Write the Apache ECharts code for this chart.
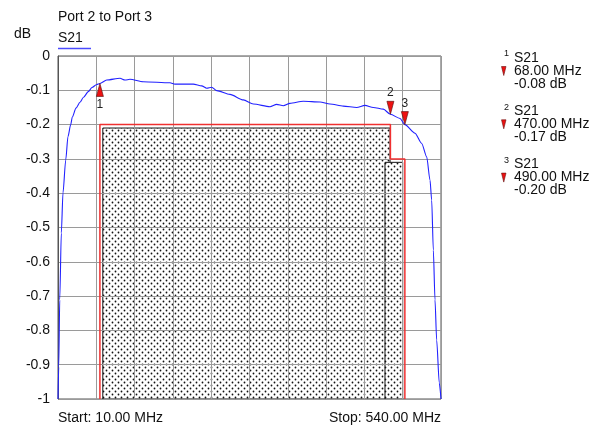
<!DOCTYPE html>
<html><head><meta charset="utf-8">
<script src="https://cdn.jsdelivr.net/npm/echarts@6/dist/echarts.min.js"></script>
<style>html,body{margin:0;padding:0;background:#fff}#c{width:610px;height:428px}</style>
</head><body><div id="c"></div>
<script>
// ---- data ----
const freqMHz = [10, 11, 12.4, 14.6, 16.9, 20.7, 23.8, 27.6, 29.8, 34.9, 40.4, 45, 51.9, 57, 63.6, 68, 77.4, 95.8, 102.7, 109.6, 128, 165, 171.9, 197.2, 208.9, 215.8, 222.7, 229.6, 248, 266.4, 280.3, 303.4, 312.6, 321.8, 331, 349.5, 372.6, 386.4, 404.8, 423.3, 434.8, 446.3, 460.2, 470, 483.3, 490, 504, 513.3, 520.2, 524.8, 527.1, 529.4, 531.7, 534, 537.6, 540];
const s21dB = [-1, -0.907, -0.711, -0.516, -0.399, -0.303, -0.235, -0.2, -0.178, -0.152, -0.135, -0.121, -0.104, -0.092, -0.083, -0.08, -0.07, -0.065, -0.07, -0.068, -0.075, -0.078, -0.082, -0.082, -0.087, -0.094, -0.091, -0.101, -0.112, -0.128, -0.14, -0.148, -0.141, -0.145, -0.138, -0.132, -0.134, -0.14, -0.146, -0.15, -0.144, -0.15, -0.155, -0.17, -0.182, -0.2, -0.225, -0.255, -0.294, -0.362, -0.42, -0.566, -0.711, -0.828, -0.953, -1];
const markerNames = ['1', '2', '3'];
const markerFreq = [68, 470, 490];
const markerDb = [-0.08, -0.17, -0.20];
const limitFreq = [68, 68, 470, 470, 490, 490];
const limitDb = [-1, -0.2, -0.2, -0.3, -0.3, -1];
const maskLeft = [72, 462.5];
const maskRight = [469.5, 487];
const maskTop = [-0.21, -0.31];
const yTickLabels = ['0', '-0.1', '-0.2', '-0.3', '-0.4', '-0.5', '-0.6', '-0.7', '-0.8', '-0.9', '-1'];
const startMHz = 10, stopMHz = 540;
const titleText = 'Port 2 to Port 3';
const traceName = 'S21';

// ---- chart ----
const FONT = "'Liberation Sans', Arial, sans-serif";
const pc = document.createElement('canvas');
pc.width = 6; pc.height = 6;
const g = pc.getContext('2d');
g.fillStyle = '#fff'; g.fillRect(0, 0, 6, 6);
g.fillStyle = '#111';
g.beginPath(); g.arc(1.5, 1.5, 0.9, 0, Math.PI * 2); g.fill();
g.beginPath(); g.arc(4.5, 4.5, 0.9, 0, Math.PI * 2); g.fill();

const chart = echarts.init(document.getElementById('c'), null, {renderer: 'canvas'});

const txt = (x, y, text, size, extra) => ({type: 'text', x, y, style: Object.assign({text, font: size + 'px ' + FONT, fill: '#111', textVerticalAlign: 'middle', verticalAlign: 'middle'}, extra || {})});
const graphics = [
  txt(58, 17, titleText, 14),
  txt(14, 34, 'dB', 14),
  txt(58, 38, traceName, 14),
  {type: 'line', shape: {x1: 58, y1: 48.5, x2: 91, y2: 48.5}, style: {stroke: '#4b4bff', lineWidth: 1.5}},
  txt(58, 418, 'Start: ' + startMHz.toFixed(2) + ' MHz', 14),
  txt(441, 418, 'Stop: ' + stopMHz.toFixed(2) + ' MHz', 14, {textAlign: 'right', align: 'right'})
];
markerNames.forEach((n, i) => {
  const y0 = 58 + i * 53.3;
  graphics.push(
    txt(504, y0 - 4, n, 9),
    txt(514, y0, traceName, 14),
    {type: 'polygon', shape: {points: [[501.5, y0 + 8.5], [506, y0 + 8.5], [503.75, y0 + 17.5]]}, style: {fill: '#ee1111', stroke: '#661111', lineWidth: 0.6}},
    txt(514, y0 + 13, markerFreq[i].toFixed(2) + ' MHz', 14),
    txt(514, y0 + 26, markerDb[i].toFixed(2) + ' dB', 14)
  );
});

const markData = markerNames.map((n, i) => {
  const up = i === 0;
  return {
    name: n,
    coord: [markerFreq[i], markerDb[i]],
    symbol: 'triangle',
    symbolSize: [7, 13],
    symbolRotate: up ? 0 : 180,
    symbolOffset: [0, up ? 6.5 : -6.5],
    itemStyle: {color: '#ee1111', borderColor: '#551111', borderWidth: 0.6},
    label: {show: true, formatter: n, position: up ? 'bottom' : 'top', distance: 2, color: '#222', fontSize: 12, fontFamily: FONT}
  };
});

const option = {
  animation: false,
  backgroundColor: '#fff',
  grid: {left: 58, top: 56, width: 383, height: 343, show: true, borderColor: '#555', borderWidth: 1, backgroundColor: 'transparent'},
  xAxis: [
    {type: 'value', min: startMHz, max: stopMHz, show: false},
    {type: 'value', min: 0, max: 10, interval: 1, z: 2,
      axisLine: {show: false}, axisTick: {show: false}, axisLabel: {show: false},
      splitLine: {show: true, lineStyle: {color: '#9a9a9a', width: 1}}}
  ],
  yAxis: {
    type: 'value', min: -1, max: 0, interval: 0.1, z: 2,
    axisLine: {show: true, lineStyle: {color: '#555'}},
    axisTick: {show: false},
    axisLabel: {margin: 8, color: '#111', fontSize: 14, fontFamily: FONT,
      formatter: v => yTickLabels[Math.round(-v * 10)]},
    splitLine: {show: true, lineStyle: {color: '#9a9a9a', width: 1}}
  },
  graphic: graphics,
  series: [
    {
      type: 'custom', name: 'mask', xAxisIndex: 0, z: 1, clip: true,
      data: maskLeft.map((l, i) => [l, maskTop[i], maskRight[i], -1]),
      encode: {x: [0, 2], y: [1, 3]},
      renderItem: (params, api) => {
        const p0 = api.coord([api.value(0), api.value(1)]);
        const p1 = api.coord([api.value(2), api.value(3)]);
        return {type: 'rect', shape: {x: p0[0], y: p0[1], width: p1[0] - p0[0], height: p1[1] - p0[1]},
          style: {fill: {image: pc, repeat: 'repeat'}, stroke: '#111', lineWidth: 1}};
      }
    },
    {
      type: 'line', name: 'limit', xAxisIndex: 0, z: 3, symbol: 'none',
      data: limitFreq.map((f, i) => [f, limitDb[i]]),
      lineStyle: {color: '#f03030', width: 1.5}
    },
    {
      type: 'line', name: traceName, xAxisIndex: 0, z: 4, symbol: 'none', clip: true,
      smooth: 0.25, smoothMonotone: 'x',
      data: freqMHz.map((f, i) => [f, s21dB[i]]),
      lineStyle: {color: '#2222ff', width: 1.1},
      markPoint: {data: markData, z: 5}
    }
  ]
};
chart.setOption(option);
</script>
</body></html>
